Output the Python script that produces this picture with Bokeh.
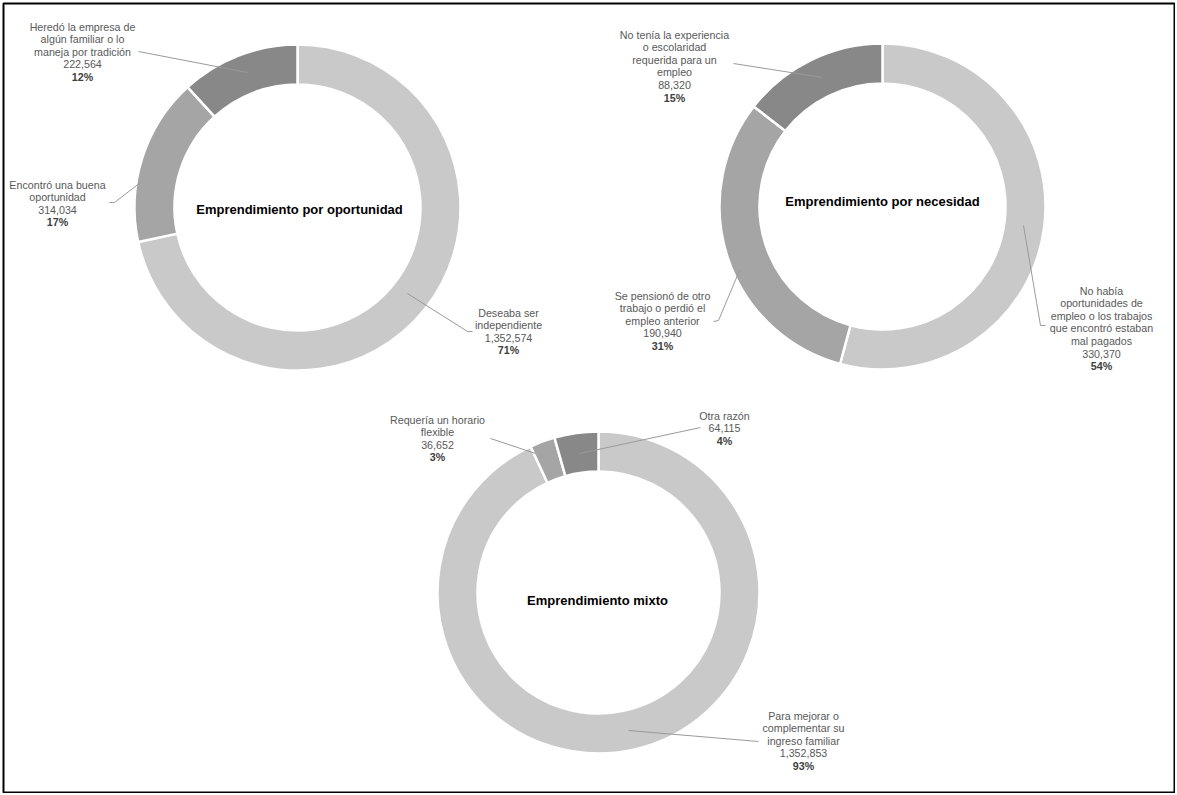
import math
from bokeh.plotting import figure
from bokeh.models import Range1d, ColumnDataSource
from bokeh.embed import file_html
from bokeh.resources import INLINE
from bokeh.core.properties import value

# ---------------- data ----------------
titles = ["Emprendimiento por oportunidad", "Emprendimiento por necesidad", "Emprendimiento mixto"]

op_labels = ["Deseaba ser\nindependiente",
             "Encontró una buena\noportunidad",
             "Heredó la empresa de\nalgún familiar o lo\nmaneja por tradición"]
op_values = [1352574, 314034, 222564]
op_pct = [71, 17, 12]

nec_labels = ["No había\noportunidades de\nempleo o los trabajos\nque encontró estaban\nmal pagados",
              "Se pensionó de otro\ntrabajo o perdió el\nempleo anterior",
              "No tenía la experiencia\no escolaridad\nrequerida para un\nempleo"]
nec_values = [330370, 190940, 88320]
nec_pct = [54, 31, 15]

mix_labels = ["Para mejorar o\ncomplementar su\ningreso familiar",
              "Requería un horario\nflexible",
              "Otra razón"]
mix_values = [1352853, 36652, 64115]
mix_pct = [93, 3, 4]

slice_colors = ["#C9C9C9", "#A5A5A5", "#888888"]

# ---------------- layout (screen px) ----------------
W, H = 1175, 793


def Y(py):
    return H - py


donuts = [
    dict(labels=op_labels, values=op_values, pct=op_pct, cx=297, cy=207, R=163, r=123,
         title_xy=(299, 209),
         label_xy=[(508, 312), (57, 184), (82, 26)],
         leaders=[[(407, 293), (467, 331), (472, 331)],
                  [(140, 182), (114, 202), (109, 202)],
                  [(247, 72), (138, 51)]]),
    dict(labels=nec_labels, values=nec_values, pct=nec_pct, cx=882, cy=206, R=163, r=123,
         title_xy=(882, 201),
         label_xy=[(1101, 290), (662, 295), (674, 34)],
         leaders=[[(1023, 225), (1040, 325), (1045, 325)],
                  [(739, 270), (718, 320), (713, 321)],
                  [(822, 77), (733, 63)]]),
    dict(labels=mix_labels, values=mix_values, pct=mix_pct, cx=598, cy=592, R=161, r=121,
         title_xy=(597, 600),
         label_xy=[(803, 715), (437, 419), (724, 415)],
         leaders=[[(628, 730), (758, 741)],
                  [(535, 453), (490, 438)],
                  [(579, 453), (700, 427)]]),
]

LINE_H = 12.6
FONT = "Liberation Sans"

p = figure(width=W, height=H, output_backend="svg", toolbar_location=None,
           x_range=Range1d(0, W), y_range=Range1d(0, H),
           x_axis_location=None, y_axis_location=None, min_border=0)
p.grid.visible = False
p.outline_line_color = None
p.background_fill_color = "white"
p.border_fill_color = "white"

# outer frame
p.quad(left=[3], right=[W - 1], top=[Y(3)], bottom=[Y(H - 1)],
       fill_color=None, line_color="black", line_width=2)

norm = dict(x=[], y=[], text=[])
bold = dict(x=[], y=[], text=[])
ttl = dict(x=[], y=[], text=[])

for d, title in zip(donuts, titles):
    vals = d["values"]
    total = float(sum(vals))
    c0 = 0.0
    starts, ends = [], []
    for v in vals:
        c1 = c0 + v / total
        starts.append(math.pi / 2 - 2 * math.pi * c0)
        ends.append(math.pi / 2 - 2 * math.pi * c1)
        c0 = c1
    src = ColumnDataSource(dict(start=starts, end=ends, color=slice_colors[:len(vals)]))
    p.annular_wedge(x=d["cx"], y=Y(d["cy"]), inner_radius=d["r"], outer_radius=d["R"],
                    start_angle="start", end_angle="end", direction="clock",
                    fill_color="color", line_color="white", line_width=2.5, source=src)

    for lab, v, pc, (lx, ly), pts in zip(d["labels"], vals, d["pct"], d["label_xy"], d["leaders"]):
        p.line([q[0] for q in pts], [Y(q[1]) for q in pts], line_color="#9a9a9a", line_width=1)
        lines = lab.split("\n") + [f"{v:,}"]
        for i, t in enumerate(lines):
            norm["x"].append(lx)
            norm["y"].append(Y(ly + i * LINE_H))
            norm["text"].append(t)
        bold["x"].append(lx)
        bold["y"].append(Y(ly + len(lines) * LINE_H))
        bold["text"].append(f"{pc}%")

    ttl["x"].append(d["title_xy"][0])
    ttl["y"].append(Y(d["title_xy"][1]))
    ttl["text"].append(title)

p.text(x="x", y="y", text="text", source=ColumnDataSource(norm),
       text_font=value(FONT), text_font_size="10.7px", text_color="#595959",
       text_align="center", text_baseline="middle")
p.text(x="x", y="y", text="text", source=ColumnDataSource(bold),
       text_font=value(FONT), text_font_size="10.7px", text_font_style="bold",
       text_color="#404040", text_align="center", text_baseline="middle")
p.text(x="x", y="y", text="text", source=ColumnDataSource(ttl),
       text_font=value(FONT), text_font_size="13px", text_font_style="bold",
       text_color="black", text_align="center", text_baseline="middle")

open("out.html", "w").write(file_html(p, INLINE))
